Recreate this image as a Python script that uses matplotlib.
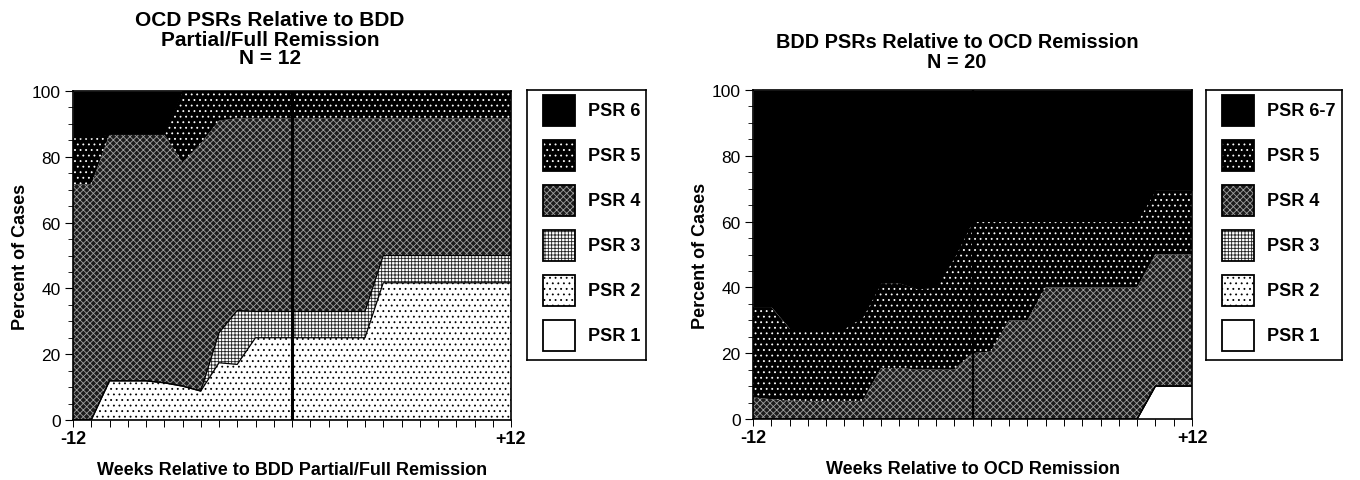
import numpy as np
import matplotlib
matplotlib.use('Agg')
import matplotlib.pyplot as plt
from matplotlib.patches import Rectangle
from matplotlib.ticker import MultipleLocator

plt.rcParams['font.family'] = ['Liberation Sans', 'DejaVu Sans']
plt.rcParams['hatch.linewidth'] = 0.6

weeks = list(range(-12, 13))
week_labels = ['-12'] + [''] * 23 + ['+12']

# left panel: OCD PSR levels (% of cases), weeks -12 .. +12
ocd_psr1 = [0, 0, 0, 0, 0, 0, 0, 0, 0, 0, 0, 0, 0, 0, 0, 0, 0, 0, 0, 0, 0, 0, 0, 0, 0]
ocd_psr2 = [0, 0, 11.9, 11.9, 11.9, 11.3, 10.3, 8.8, 17.4, 16.9, 25, 25, 25, 25, 25, 25, 25,
            41.7, 41.7, 41.7, 41.7, 41.7, 41.7, 41.7, 41.7]
ocd_psr3 = [0, 0, 0, 0, 0, 0, 0, 0, 9.1, 16.4, 8, 8, 8, 8, 8, 8, 8,
            8.3, 8.3, 8.3, 8.3, 8.3, 8.3, 8.3, 8.3]
ocd_psr4 = [71.6, 71.6, 74.9, 74.9, 74.9, 75.5, 67.9, 75.2, 64.5, 58.4, 58.7, 58.7, 58.7, 58.7, 58.7, 58.7, 58.7,
            41.7, 41.7, 41.7, 41.7, 41.7, 41.7, 41.7, 41.7]
ocd_psr5 = [14.2, 14.2, 0, 0, 0, 0, 21.8, 16, 9, 8.3, 8.3, 8.3, 8.3, 8.3, 8.3, 8.3, 8.3,
            8.3, 8.3, 8.3, 8.3, 8.3, 8.3, 8.3, 8.3]
ocd_psr6 = [14.2, 14.2, 13.2, 13.2, 13.2, 13.2, 0, 0, 0, 0, 0, 0, 0, 0, 0, 0, 0, 0, 0, 0, 0, 0, 0, 0, 0]

# right panel: BDD PSR levels (% of cases)
bdd_psr1 = [0, 0, 0, 0, 0, 0, 0, 0, 0, 0, 0, 0, 0, 0, 0, 0, 0, 0, 0, 0, 0, 0, 10, 10, 10]
bdd_psr2 = [0, 0, 0, 0, 0, 0, 0, 0, 0, 0, 0, 0, 0, 0, 0, 0, 0, 0, 0, 0, 0, 0, 0, 0, 0]
bdd_psr3 = [0, 0, 0, 0, 0, 0, 0, 0, 0, 0, 0, 0, 0, 0, 0, 0, 0, 0, 0, 0, 0, 0, 0, 0, 0]
bdd_psr4 = [6.6, 6, 5.6, 5.5, 5.5, 5.5, 5.5, 15.5, 15.5, 15, 15, 15, 20, 20.5, 30, 30,
            40, 40, 40, 40, 40, 40, 40, 40, 40]
bdd_psr5 = [27.4, 28, 21.9, 22, 22, 22, 25.5, 25.8, 25.8, 24.5, 25, 34, 40, 39.5, 30, 30,
            20, 20, 20, 20, 20, 20, 19.5, 19.5, 19.5]
bdd_psr67 = [66, 66, 72.5, 72.5, 72.5, 72.5, 69, 58.7, 58.7, 60.5, 60, 51, 40, 40, 40, 40,
             40, 40, 40, 40, 40, 40, 30.5, 30.5, 30.5]

level_styles = [
    dict(facecolor='white', edgecolor='black', hatch=None),
    dict(facecolor='white', edgecolor='black', hatch='...'),
    dict(facecolor='white', edgecolor='#222222', hatch='+++++'),
    dict(facecolor='#1c1c1c', edgecolor='#a0a0a0', hatch='xxxxx'),
    dict(facecolor='black', edgecolor='white', hatch='...'),
    dict(facecolor='black', edgecolor='black', hatch=None),
]

W, H = 1360, 481
fig = plt.figure(figsize=(W / 100, H / 100), dpi=100)


def px_axes(x0, y0, x1, y1):
    return fig.add_axes([x0 / W, 1 - y1 / H, (x1 - x0) / W, (y1 - y0) / H])


def draw_panel(ax, levels, xlabel, vline_w):
    x = np.array(weeks)
    lower = np.zeros(len(x))
    for i, (vals, st) in enumerate(zip(levels, level_styles)):
        upper = lower + np.array(vals)
        ax.fill_between(x, lower, upper, facecolor=st['facecolor'], edgecolor=st['edgecolor'],
                        hatch=st['hatch'], linewidth=0, zorder=1)
        if i < 3:
            ax.plot(x, upper, color='black', lw=0.9, zorder=2)
        lower = upper
    ax.axvline(0, color='black', lw=vline_w, zorder=3)
    ax.set_xlim(-12, 12)
    ax.set_ylim(0, 100)
    ax.set_xticks(weeks)
    ax.set_xticklabels(week_labels, fontweight='bold', fontsize=13)
    ax.set_yticks([0, 20, 40, 60, 80, 100])
    ax.yaxis.set_minor_locator(MultipleLocator(5))
    ax.tick_params(axis='y', which='major', length=6, width=0.8, labelsize=12.5, pad=3)
    ax.tick_params(axis='y', which='minor', length=3.5, width=0.6)
    ax.tick_params(axis='x', which='major', length=5, width=0.7, pad=2)
    for s in ax.spines.values():
        s.set_linewidth(1.2)
        s.set_zorder(4)
    ax.set_ylabel('Percent of Cases', fontweight='bold', fontsize=13, labelpad=2)
    ax.set_xlabel(xlabel, fontweight='bold', fontsize=13, labelpad=10)


def draw_legend(lax, names):
    lax.set_xlim(0, 1)
    lax.set_ylim(6, 0)
    lax.set_xticks([])
    lax.set_yticks([])
    for s in lax.spines.values():
        s.set_linewidth(1.2)
    bw = 32 / (lax.get_position().width * W)
    bx = 16 / (lax.get_position().width * W)
    tx = 61 / (lax.get_position().width * W)
    for row, (name, st) in enumerate(zip(names, level_styles[::-1])):
        y0 = row + 0.1
        lax.add_patch(Rectangle((bx, y0), bw, 0.69, facecolor=st['facecolor'],
                                edgecolor=st['edgecolor'], hatch=st['hatch'], linewidth=0))
        lax.add_patch(Rectangle((bx, y0), bw, 0.69, facecolor='none',
                                edgecolor='black', linewidth=1.3))
        lax.text(tx, y0 + 0.36, name, fontweight='bold', fontsize=13, va='center', ha='left')


def title_lines(xc, centers, lines, size):
    for yc, line in zip(centers, lines):
        fig.text(xc / W, 1 - yc / H, line, ha='center', va='center', fontweight='bold', fontsize=size)


ax1 = px_axes(73, 92, 511, 421)
draw_panel(ax1, [ocd_psr1, ocd_psr2, ocd_psr3, ocd_psr4, ocd_psr5, ocd_psr6],
           'Weeks Relative to BDD Partial/Full Remission', 2.2)
title_lines(270, [21, 40, 58], ['OCD PSRs Relative to BDD', 'Partial/Full Remission', 'N = 12'], 15)

ax2 = px_axes(753, 91, 1192, 420)
draw_panel(ax2, [bdd_psr1, bdd_psr2, bdd_psr3, bdd_psr4, bdd_psr5, bdd_psr67],
           'Weeks Relative to OCD Remission', 1.6)
title_lines(957, [42, 63], ['BDD PSRs Relative to OCD Remission', 'N = 20'], 14.3)

lax1 = px_axes(527, 91, 646, 361)
draw_legend(lax1, ['PSR 6', 'PSR 5', 'PSR 4', 'PSR 3', 'PSR 2', 'PSR 1'])
lax2 = px_axes(1206, 91, 1342, 361)
draw_legend(lax2, ['PSR 6-7', 'PSR 5', 'PSR 4', 'PSR 3', 'PSR 2', 'PSR 1'])

fig.savefig('out.png', dpi=100)
